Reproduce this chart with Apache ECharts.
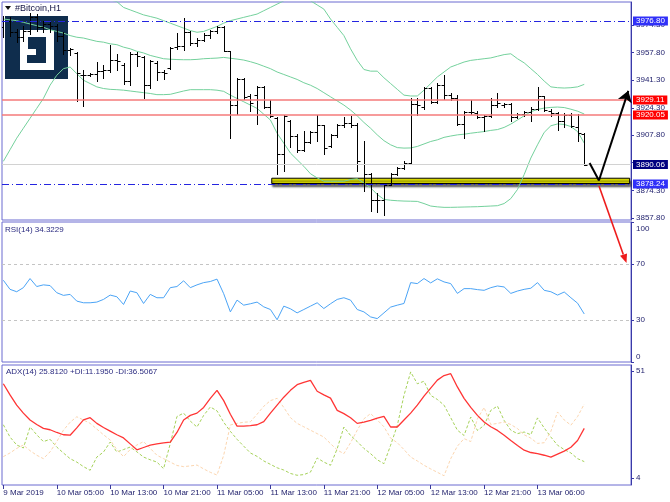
<!DOCTYPE html>
<html><head><meta charset="utf-8">
<script src="https://cdn.jsdelivr.net/npm/echarts@6/dist/echarts.min.js"></script>
<style>html,body{margin:0;padding:0;background:#fff}#c{width:670px;height:502px}</style>
</head><body><div id="c"></div><script>
// ---------- data (hourly bars, index 0 = 9 Mar 2019 21:00) ----------
const opens = [3973,3977,3970,3967,3971,3979,3973,3975,3974,3968,3959.5,3957.5,3944.4,3944.4,3944.8,3946.4,3947.4,3953.4,3950.4,3940.3,3957.1,3954.8,3938.3,3951.4,3946.0,3948.4,3960.9,3961.5,3970.2,3963.5,3965.1,3968.5,3971.0,3973.2,3958.5,3925.8,3942.0,3931.3,3931.9,3937.1,3924.6,3918.2,3896.4,3916.6,3907.5,3899.0,3903.5,3909.7,3913.8,3901.1,3907.7,3914.2,3915.2,3914.2,3890.4,3884.6,3868.8,3868.4,3877.9,3884.6,3888.0,3891.0,3926.9,3924.6,3936.3,3927.9,3938.3,3931.9,3930.3,3914.6,3921.8,3921.4,3919.0,3919.2,3926.2,3926.2,3926.6,3918.6,3920.6,3921.6,3923.6,3931.3,3922.6,3921.0,3916.2,3920.2,3912.5,3908.5];
const highs = [3980,3979,3972,3974,3981.5,3981,3977,3977,3975,3970,3960.5,3957.9,3947.4,3945.4,3951.8,3950.4,3962.5,3957.0,3951.4,3958.1,3958.1,3955.4,3953.4,3952.8,3947.2,3961.1,3969.5,3978.6,3971.0,3966.5,3969.5,3971.6,3973.6,3973.6,3958.9,3942.4,3942.4,3932.7,3937.7,3937.7,3929.3,3918.6,3919.8,3917.0,3908.5,3910.1,3910.5,3919.8,3914.2,3908.5,3914.8,3918.6,3919.2,3915.0,3904.1,3885.0,3872.9,3878.3,3885.0,3888.8,3892.0,3930.3,3930.3,3937.1,3937.1,3939.1,3944.4,3933.1,3931.9,3922.6,3929.1,3922.2,3920.2,3930.3,3933.1,3927.5,3927.5,3921.4,3922.6,3924.6,3937.1,3931.7,3923.8,3921.6,3921.0,3921.0,3920.6,3908.9];
const lows = [3967,3968,3964,3965,3969,3971,3970,3970,3965,3957,3956.5,3928.3,3925.6,3943.4,3940.7,3942.4,3946.0,3947.0,3938.7,3938.3,3949.4,3930.3,3936.3,3941.4,3942.0,3948.0,3960.1,3959.5,3962.5,3961.5,3964.5,3966.5,3969.5,3958.5,3906.1,3920.6,3929.9,3922.2,3914.8,3924.2,3918.6,3884.6,3886.0,3900.5,3897.6,3898.0,3903.1,3904.5,3896.4,3900.5,3906.5,3912.6,3912.6,3886.0,3874.3,3861.8,3861.4,3859.8,3877.5,3884.0,3887.6,3890.6,3920.2,3923.8,3927.3,3927.3,3929.9,3929.1,3913.8,3906.1,3920.6,3918.2,3910.5,3919.0,3925.0,3925.0,3916.2,3918.2,3919.2,3916.6,3923.2,3922.6,3919.2,3911.0,3913.0,3912.6,3904.0,3890.0];
const closes = [3977,3970,3967,3971,3979,3973,3975,3974,3968,3959.5,3960,3945.4,3944.4,3944.8,3946.4,3947.4,3953.4,3952.4,3940.3,3957.1,3955.4,3938.3,3952.4,3946.0,3945.4,3960.5,3961.5,3970.2,3963.5,3965.1,3968.5,3971.0,3973.2,3958.9,3926.2,3942.0,3930.7,3927.3,3936.7,3924.6,3919.2,3896.4,3919.2,3907.5,3899.0,3903.5,3909.7,3913.8,3900.1,3907.7,3914.2,3915.2,3913.8,3892.4,3884.6,3868.8,3868.4,3877.5,3884.6,3888.0,3891.0,3926.9,3925.8,3936.3,3927.9,3938.3,3931.9,3930.3,3914.6,3921.8,3921.8,3919.0,3919.2,3926.2,3927.0,3926.6,3918.6,3920.6,3921.6,3923.6,3931.3,3923.2,3921.0,3916.2,3920.2,3913.2,3909.0,3890.06];

const bbUpper = [4012,4010,4008,4006,4004,4002,4000,3998.5,3997,3996,3995,3994,3993,3992,3991,3990.5,3989.5,3988.5,3985,3983.5,3982,3980.5,3979.5,3978.5,3977,3975.5,3974,3972.5,3971,3970,3970.5,3972,3973.5,3975.5,3977,3978,3979,3980,3981,3983,3985,3987,3989,3991,3992,3991,3989,3986.5,3984,3978,3973,3968,3960,3953,3947.5,3946.5,3946.5,3942.5,3939,3935.5,3932,3931.5,3931.5,3935,3939,3943,3946,3949,3950.5,3952,3953,3953.5,3954,3954.5,3955.5,3956.5,3957,3954,3951.5,3948,3944.5,3940.5,3937,3936.5,3936.3,3936.5,3937,3938.5];
const bbMiddle = [3978,3977.5,3977,3976,3975,3974,3973,3971.5,3970.5,3969.5,3968,3967,3966.5,3965.5,3964.5,3964,3963,3962.5,3961,3960,3958.5,3957.5,3956,3955,3954,3953.7,3953.5,3953.4,3953.4,3953.6,3954,3954.2,3954.4,3954.8,3954.3,3953.8,3953.2,3952.2,3951,3949.5,3948,3946,3944.5,3943,3941.5,3939.5,3938,3936,3933.5,3931,3928.5,3926,3923,3919.5,3915.5,3912,3908,3904.5,3902,3900.3,3900,3900.1,3901,3902.5,3904,3905,3906.5,3907.3,3908,3908.4,3909,3909.5,3910,3910.7,3911.2,3912.5,3914.5,3917,3919.5,3922,3923.3,3924.2,3924.6,3924.8,3924.5,3923.5,3922.3,3920.6];
const bbLower = [3892,3899,3906,3912,3918,3924,3930,3938,3944,3948,3949,3945,3941,3939,3937,3936,3935.5,3935.3,3935,3934.5,3934,3933.5,3933,3932.3,3932.3,3932.5,3933.5,3934.5,3935.3,3935.3,3935.3,3935.3,3935,3934.3,3932,3930,3928,3926,3924,3920.5,3917,3909,3903,3897,3893,3889,3884.5,3882,3880,3880,3880,3880,3881,3881.5,3879,3876,3872,3869,3868.5,3868.2,3868,3867.9,3867.8,3866.5,3865,3864.5,3864.2,3864.2,3864.3,3864.4,3864.5,3864.6,3864.8,3865,3865.2,3866.5,3869.5,3875,3884,3894,3902,3909.5,3913.5,3914.6,3914.3,3913,3910,3903];

const rsi = [58.4,51.9,50.2,53.1,59.6,53.9,55.1,54.6,49.5,47.6,48.3,43.5,42.3,42.3,42.8,44.7,47.8,46.6,41.1,50.7,49.5,41.8,48.3,45.9,45.9,53.1,53.9,58.0,53.1,55.1,56.7,57.5,59.2,48.8,35.8,44.2,40.6,41.6,42.8,39.4,37.5,30.2,39.9,38.0,35.1,37.5,39.9,42.3,38.2,41.6,44.7,45.9,44.2,37.5,35.8,32.2,31.0,35.1,39.2,40.6,41.8,56.7,56.0,59.6,56.5,59.4,57.2,56.0,49.0,52.4,52.4,51.7,51.2,53.1,54.3,53.6,49.0,50.7,51.9,52.7,56.7,51.2,50.2,47.8,50.0,45.9,42.0,34.3];

const adx = [45.4,40.5,36,32.5,29.5,27.5,25.8,25.2,24.0,23.0,22.8,26.0,29.5,30.5,28.0,26.2,24.6,23.0,21.6,19.0,16.4,17.4,18.4,19.0,19.4,19.8,24.0,29.5,31.5,32.5,35.0,39.0,42.5,38.0,32.0,26.8,26.8,27.0,27.4,28.8,32.5,36.0,39.5,42.5,45.0,46.0,46.9,42.1,40.5,39.1,33.7,32.3,30.5,28.0,28.5,29.3,30.3,31.1,26.4,26.4,29.5,32.5,36.0,40.0,43.5,47.0,49.0,49.8,44.0,39.0,35.0,31.5,28.6,26.5,24.9,22.8,20.5,18.3,16.2,15.2,14.7,14.0,13.2,14.5,15.8,17.5,20.5,25.8];
const plusDI = [27.4,22,18.5,17.2,26.4,23.0,20.0,21.0,17.6,15.0,12.5,11.0,9.0,7.4,13.2,15.4,19.8,15.4,16.5,17.6,15.5,13.2,12.0,11.0,8.1,19.1,31.0,32.5,29.0,26.4,31.5,35.2,33.5,28.5,24.5,21.0,18.0,15.0,13.5,11.5,10.0,8.5,7.5,6.0,5.2,5.5,6.6,12.8,11.0,9.6,16.9,26.4,22.7,20.0,17.0,14.7,12.0,10.3,18.4,27.1,40.3,50.6,45.4,46.5,40.3,38.5,36.0,30.5,25.0,22.7,30.8,24.9,27.1,33.7,35.6,29.3,25.0,23.5,24.2,23.0,30.4,26.0,22.0,18.4,16.5,15.0,12.5,11.2];
const minusDI = [13.4,15.0,17.0,18.5,16.0,14.0,12.5,15.5,20.0,25.0,28.5,30.9,29.5,28.0,25.5,23.0,20.7,16.5,13.4,16.5,18.5,20.0,17.0,14.0,12.5,11.0,9.5,9.0,9.3,9.7,8.0,6.5,5.3,14.0,27.3,28.0,28.5,28.7,32.0,35.5,38.0,39.0,35.0,30.5,28.0,26.5,25.0,23.5,22.0,19.1,16.3,14.7,19.5,25.0,30.0,32.3,29.5,26.5,21.5,19.5,16.5,13.2,11.5,9.6,8.0,6.5,5.0,12.5,18.0,21.3,20.0,30.0,35.0,27.5,28.0,28.6,27.5,25.7,23.0,21.5,19.2,19.5,24.5,33.0,29.5,27.2,31.0,36.5];

const timeTickBars = [0,8,16,24,32,40,48,56,64,72,80];
const timeLabels = ['9 Mar 2019','10 Mar 05:00','10 Mar 13:00','10 Mar 21:00','11 Mar 05:00','11 Mar 13:00','11 Mar 21:00','12 Mar 05:00','12 Mar 13:00','12 Mar 21:00','13 Mar 06:00'];
const priceTicks = [3857.8,3874.3,3891.3,3907.8,3924.3,3941.3,3957.8,3974.3];
const rsiTicks = [0,30,70,100];
const adxTicks = [4,51];
const rsiLevels = [70,30];

const levelValues = [3976.80,3929.11,3920.05,3890.06,3878.24];
const levelKinds = ['blue','red','red','grey','blue'];
const supportZone = [40.2,93.8,3878.6,3881.8];      // bar from, bar to, price low, price high
const forecastDown = [[87.8,3891.0],[89.2,3880.4]];
const forecastUp = [[89.2,3880.4],[93.6,3934.6]];

const titleText = '#Bitcoin,H1';
const rsiText = 'RSI(14) 34.3229';
const adxText = 'ADX(14) 25.8120 +DI:11.1950 -DI:36.5067';

// ---------- chart ----------
const FONT = 'Liberation Sans, Arial, sans-serif';
const AX = '#23236e';
const BORDER = '#6a6ad0';
const idx = a => a.map((v,i)=>[i,v]);
const ohlc = opens.map((o,i)=>[i,o,closes[i],lows[i],highs[i]]);

const levelStyle = {
  blue:{line:{color:'#2424e0',type:[7,3,1,3],width:1}, bg:'#3030f8'},
  red:{line:{color:'#f57a7a',type:'solid',width:1.6}, bg:'#ff0000'},
  grey:{line:{color:'#d2d2d2',type:'solid',width:1}, bg:'#000080'}
};

function renderBar(params, api){
  const x = api.value(0);
  const o = api.coord([x, api.value(1)]);
  const c = api.coord([x, api.value(2)]);
  const l = api.coord([x, api.value(3)]);
  const h = api.coord([x, api.value(4)]);
  const px = Math.round(h[0]) + 0.5;
  const w = 3;
  const st = {stroke:'#000', lineWidth:1};
  return {type:'group', children:[
    {type:'line', shape:{x1:px,y1:Math.round(h[1]),x2:px,y2:Math.round(l[1])+1}, style:st},
    {type:'line', shape:{x1:px-w,y1:Math.round(o[1])+0.5,x2:px,y2:Math.round(o[1])+0.5}, style:st},
    {type:'line', shape:{x1:px,y1:Math.round(c[1])+0.5,x2:px+w,y2:Math.round(c[1])+0.5}, style:st}
  ]};
}

const chart = echarts.init(document.getElementById('c'), null, {renderer:'canvas'});
const xBase = i => ({gridIndex:i, type:'value', min:-0.2, max:94, show:i===2,
  axisLine:{show:false, onZero:false}, splitLine:{show:false},
  axisTick:{show:i===2, customValues:timeTickBars, length:4, lineStyle:{color:'#3a3a9a'}},
  axisLabel:{show:i===2, customValues:timeTickBars, align:'left', margin:4, fontSize:8, fontFamily:FONT, color:AX,
    formatter:v=>{const k=timeTickBars.indexOf(v);return k>=0?timeLabels[k]:'';}}
});
const yBase = (i,min,max,ticks,fmt,rich) => ({gridIndex:i, type:'value', position:'right', min:min, max:max,
  axisLine:{show:true, onZero:false, lineStyle:{color:'#3a3aa8'}}, splitLine:{show:false},
  axisTick:{show:true, customValues:ticks, length:3, lineStyle:{color:'#3a3aa8'}},
  axisLabel:{customValues:ticks, margin:5, fontSize:8, fontFamily:FONT, color:AX, formatter:fmt, rich:rich}
});

const option = {
  animation:false,
  backgroundColor:'#ffffff',
  grid:[
    {left:2, right:39, top:2, height:218, show:true, borderColor:BORDER, borderWidth:1},
    {left:2, right:39, top:222, height:140, show:true, borderColor:BORDER, borderWidth:1},
    {left:2, right:39, top:365, height:120, show:true, borderColor:BORDER, borderWidth:1}
  ],
  xAxis:[xBase(0), xBase(1), xBase(2)],
  yAxis:[
    yBase(0, 3856.56, 3988.28, priceTicks, v=>v.toFixed(2)),
    yBase(1, 0, 100, rsiTicks, v=> v===100 ? '{top|100}' : (v===0 ? '{bot|0}' : String(v)),
      {top:{fontSize:8, fontFamily:FONT, color:AX, padding:[13,0,0,0]}, bot:{fontSize:8, fontFamily:FONT, color:AX, padding:[0,0,10,0]}}),
    yBase(2, 0.93, 53.64, adxTicks, v=>String(v))
  ],
  series:[
    {type:'line', name:'BB middle', xAxisIndex:0, yAxisIndex:0, data:idx(bbMiddle), showSymbol:false, symbol:'none', z:2,
      lineStyle:{color:'#74d19c', width:1}, silent:true,
      markArea:{silent:true, z:1, itemStyle:{color:'#e2e200', borderColor:'#000', borderWidth:1, shadowColor:'rgba(0,0,0,0.6)', shadowBlur:2, shadowOffsetY:3, shadowOffsetX:1},
        data:[[{xAxis:supportZone[0], yAxis:supportZone[3]},{xAxis:supportZone[1], yAxis:supportZone[2]}]]},
      markLine:{silent:true, symbol:'none', animation:false, z:6,
        data: levelValues.map((v,k)=>({yAxis:v, name:v.toFixed(2), lineStyle:levelStyle[levelKinds[k]].line,
          label:{show:true, position:'end', distance:2, formatter:'{b}', color:'#fff', fontSize:8, fontFamily:FONT,
            backgroundColor:levelStyle[levelKinds[k]].bg, padding:[1,3,0,3]}}))}
    },
    {type:'line', name:'BB upper', xAxisIndex:0, yAxisIndex:0, data:idx(bbUpper), symbol:'none', z:2, lineStyle:{color:'#74d19c', width:1}, silent:true},
    {type:'line', name:'BB lower', xAxisIndex:0, yAxisIndex:0, data:idx(bbLower), symbol:'none', z:2, lineStyle:{color:'#74d19c', width:1}, silent:true},
    {type:'custom', name:'Bitcoin H1', xAxisIndex:0, yAxisIndex:0, data:ohlc, renderItem:renderBar, z:3, clip:true,
      encode:{x:0, y:[1,2,3,4]}},
    {type:'lines', coordinateSystem:'cartesian2d', xAxisIndex:0, yAxisIndex:0, z:7, symbol:'none',
      lineStyle:{color:'#000', width:2, opacity:1}, data:[{coords:forecastDown}]},
    {type:'lines', coordinateSystem:'cartesian2d', xAxisIndex:0, yAxisIndex:0, z:7, symbol:['none','arrow'], symbolSize:11,
      lineStyle:{color:'#000', width:2, opacity:1}, data:[{coords:forecastUp}]},
    {type:'line', name:'RSI', xAxisIndex:1, yAxisIndex:1, data:idx(rsi), symbol:'none', lineStyle:{color:'#4ba4f6', width:1},
      markLine:{silent:true, symbol:'none', label:{show:false}, lineStyle:{color:'#c4c4c4', type:[3,3], width:1},
        data:rsiLevels.map(v=>({yAxis:v}))}},
    {type:'line', name:'+DI', xAxisIndex:2, yAxisIndex:2, data:idx(plusDI), symbol:'none', lineStyle:{color:'#a6d25a', width:1, type:[3,2]}},
    {type:'line', name:'-DI', xAxisIndex:2, yAxisIndex:2, data:idx(minusDI), symbol:'none', lineStyle:{color:'#fcd6b0', width:1, type:[3,2]}},
    {type:'line', name:'ADX', xAxisIndex:2, yAxisIndex:2, data:idx(adx), symbol:'none', lineStyle:{color:'#ff3535', width:1.3}}
  ],
  graphic:[
    {type:'polygon', shape:{points:[[5,6],[11,6],[8,10]]}, style:{fill:'#111'}, z:50},
    {type:'text', left:15, top:4, style:{text:titleText, font:'9px '+FONT, fill:'#101040'}, z:50},
    {type:'text', left:5, top:226, style:{text:rsiText, font:'8px '+FONT, fill:'#2b2b80'}, z:50},
    {type:'text', left:6, top:368, style:{text:adxText, font:'8px '+FONT, fill:'#2b2b80'}, z:50},
    // logo
    {type:'group', z:60, children:[
      {type:'rect', shape:{x:5,y:16,width:63,height:63}, style:{fill:'#0f2d4d'}},
      {type:'rect', shape:{x:20,y:30,width:34,height:40}, style:{fill:'#ffffff'}},
      {type:'rect', shape:{x:28,y:37,width:18,height:12}, style:{fill:'#0f2d4d'}},
      {type:'rect', shape:{x:28,y:49,width:8,height:7}, style:{fill:'#ffffff'}},
      {type:'rect', shape:{x:27,y:55,width:19,height:8}, style:{fill:'#0f2d4d'}},
      {type:'rect', shape:{x:36,y:49,width:10,height:6}, style:{fill:'#0f2d4d'}}
    ]},
    // red forecast arrow crossing into the RSI pane
    {type:'polyline', shape:{points:[[599,186],[623.3,254.5]]}, style:{stroke:'#ee1c1c', lineWidth:1.6}, z:55},
    {type:'polygon', shape:{points:[[626.5,263],[627,253.5],[620,255.8]]}, style:{fill:'#ee1c1c'}, z:55}
  ]
};
chart.setOption(option);
</script></body></html>
